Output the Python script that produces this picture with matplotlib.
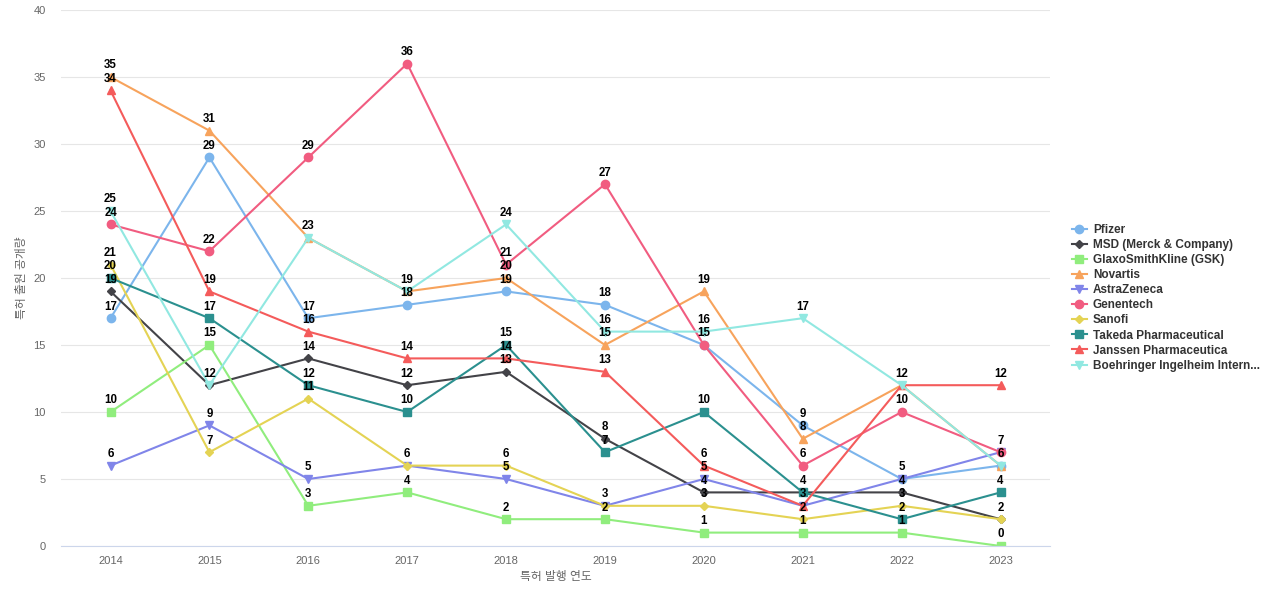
import matplotlib.pyplot as plt

plt.rcParams['font.family'] = ['Liberation Sans', 'Noto Sans CJK KR', 'DejaVu Sans']

years = [2014, 2015, 2016, 2017, 2018, 2019, 2020, 2021, 2022, 2023]

pfizer = [17, 29, 17, 18, 19, 18, 15, 9, 5, 6]
msd = [19, 12, 14, 12, 13, 8, 4, 4, 4, 2]
gsk = [10, 15, 3, 4, 2, 2, 1, 1, 1, 0]
novartis = [35, 31, 23, 19, 20, 15, 19, 8, 12, 6]
astrazeneca = [6, 9, 5, 6, 5, 3, 5, 3, 5, 7]
genentech = [24, 22, 29, 36, 21, 27, 15, 6, 10, 7]
sanofi = [21, 7, 11, 6, 6, 3, 3, 2, 3, 2]
takeda = [20, 17, 12, 10, 15, 7, 10, 4, 2, 4]
janssen = [34, 19, 16, 14, 14, 13, 6, 3, 12, 12]
boehringer = [25, 12, 23, 19, 24, 16, 16, 17, 12, 6]

series = [
    ("Pfizer", pfizer, "#7cb5ec", "o"),
    ("MSD (Merck & Company)", msd, "#434348", "D"),
    ("GlaxoSmithKline (GSK)", gsk, "#90ed7d", "s"),
    ("Novartis", novartis, "#f7a35c", "^"),
    ("AstraZeneca", astrazeneca, "#8085e9", "v"),
    ("Genentech", genentech, "#f15c80", "o"),
    ("Sanofi", sanofi, "#e4d354", "D"),
    ("Takeda Pharmaceutical", takeda, "#2b908f", "s"),
    ("Janssen Pharmaceutica", janssen, "#f45b5b", "^"),
    ("Boehringer Ingelheim Intern...", boehringer, "#91e8e1", "v"),
]

fig = plt.figure(figsize=(12.8, 6), dpi=100)
ax = fig.add_axes([0.0477, 0.09, 0.7726, 0.8933])

xs = list(range(len(years)))
shown = set()
for name, vals, color, marker in series:
    ms = 4.5 if marker == "D" else 6
    ax.plot(xs, vals, color=color, marker=marker, markersize=ms, linewidth=1.5, label=name)
    for x, v in zip(xs, vals):
        # overlapping labels with the same value are only drawn once
        if (x, v) in shown:
            continue
        shown.add((x, v))
        ax.annotate(str(v), (x, v), xytext=(0, 4), textcoords="offset points",
                    ha="center", va="bottom", fontsize=8.3, fontweight="bold", color="black")

ax.set_xlim(-0.5, len(years) - 0.5)
ax.set_ylim(0, 40)
ax.set_yticks(range(0, 41, 5))
ax.set_xticks(xs)
ax.set_xticklabels([str(y) for y in years])
ax.tick_params(axis="both", length=0, labelsize=8, colors="#666666")
ax.tick_params(axis="x", pad=7)
ax.tick_params(axis="y", pad=11)
ax.grid(axis="y", color="#e6e6e6", linewidth=0.8)
ax.set_axisbelow(True)
for s in ["top", "right", "left"]:
    ax.spines[s].set_visible(False)
ax.spines["bottom"].set_color("#ccd6eb")

ax.set_xlabel("특허 발행 연도", fontsize=8.5, color="#666666", labelpad=4)
ax.set_ylabel("특허 출원 공개량", fontsize=8.5, color="#666666", labelpad=4)

leg = ax.legend(loc="center left", bbox_to_anchor=(1.017, 0.463), frameon=False,
                prop={"weight": "bold", "size": 8.5}, handlelength=1.3,
                labelspacing=0.26, handletextpad=0.5, borderaxespad=0)
for t in leg.get_texts():
    t.set_color("#333333")

fig.savefig("out.png", dpi=100)
